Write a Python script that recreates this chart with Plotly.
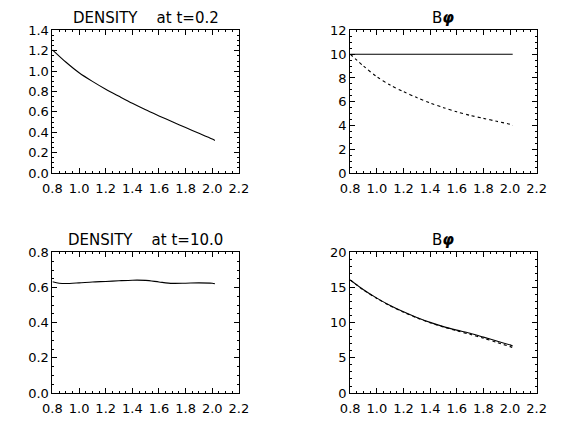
import plotly.graph_objects as go

# ---- data ----
r = [0.8, 0.9, 1.0, 1.1, 1.2, 1.3, 1.4, 1.5, 1.6, 1.7, 1.8, 1.9, 2.0, 2.02]

dens_t02 = [1.21, 1.09, 0.985, 0.9, 0.823, 0.753, 0.684, 0.62, 0.561, 0.503, 0.446, 0.39, 0.333, 0.32]
bphi_t02_solid = [10.0] * 14
bphi_t02_dash = [10.0, 9.0, 8.1, 7.4, 6.85, 6.35, 5.9, 5.5, 5.15, 4.85, 4.6, 4.35, 4.1, 4.0]

r3 = [0.8, 0.85, 0.9, 1.0, 1.1, 1.2, 1.3, 1.4, 1.5, 1.6, 1.7, 1.8, 1.9, 2.0, 2.02]
dens_t10 = [0.633, 0.625, 0.623, 0.627, 0.632, 0.635, 0.639, 0.642, 0.641, 0.632, 0.624, 0.625, 0.627, 0.625, 0.622]

bphi_t10_solid = [16.1, 14.7, 13.5, 12.45, 11.55, 10.75, 10.05, 9.45, 8.95, 8.5, 7.95, 7.4, 6.85, 6.7]
bphi_t10_dash = [16.1, 14.65, 13.45, 12.4, 11.5, 10.7, 10.0, 9.4, 8.85, 8.35, 7.8, 7.2, 6.6, 6.45]

titles = ["DENSITY&nbsp;&nbsp;&nbsp; at t=0.2", "B<b><i>φ</i></b>",
          "DENSITY&nbsp;&nbsp;&nbsp; at t=10.0", "B<b><i>φ</i></b>"]
y_ranges = [[0, 1.4], [0, 12], [0, 0.8], [0, 20]]
y_dticks = [0.2, 2, 0.2, 5]
y_fmt = [".1f", "d", ".1f", "d"]
y_minor = [4, 4, 4, 5]

W, H = 565, 430
boxes = [  # left, right, top, bottom in px
    (44, 237.3, 24.3, 172),
    (352.7, 546, 24.3, 172),
    (44, 237.3, 254.3, 400),
    (352.7, 546, 254.3, 400),
]

fig = go.Figure()
FONT = "DejaVu Sans, sans-serif"

series = [
    [(r, dens_t02, "solid")],
    [(r, bphi_t02_solid, "solid"), (r, bphi_t02_dash, "3px,3px")],
    [(r3, dens_t10, "solid")],
    [(r, bphi_t10_solid, "solid"), (r, bphi_t10_dash, "3px,3px")],
]

for i in range(4):
    xa = "x" if i == 0 else f"x{i+1}"
    ya = "y" if i == 0 else f"y{i+1}"
    for xs, ys, dash in series[i]:
        fig.add_trace(go.Scatter(x=xs, y=ys, mode="lines", xaxis=xa, yaxis=ya,
                                 line=dict(color="black", width=1.1, dash=dash,
                                           shape="spline", smoothing=0.8),
                                 showlegend=False, hoverinfo="skip"))
    l, rr, t, b = boxes[i]
    axk = "xaxis" if i == 0 else f"xaxis{i+1}"
    ayk = "yaxis" if i == 0 else f"yaxis{i+1}"
    fig.layout[axk] = dict(
        domain=[l / W, rr / W], range=[0.8, 2.2], anchor=ya,
        tickmode="linear", tick0=0.8, dtick=0.2, tickformat=".1f",
        ticks="inside", ticklen=5, tickwidth=1, tickcolor="black",
        showline=True, linecolor="black", linewidth=1, mirror="ticks",
        showgrid=False, zeroline=False,
        minor=dict(ticks="inside", ticklen=2, nticks=4, tickcolor="black", showgrid=False),
        tickfont=dict(family=FONT, size=13, color="black"),
        ticklabelstandoff=3,
    )
    fig.layout[ayk] = dict(
        domain=[1 - b / H, 1 - t / H], range=y_ranges[i], anchor=xa,
        tickmode="linear", tick0=0, dtick=y_dticks[i], tickformat=y_fmt[i],
        ticks="inside", ticklen=5, tickwidth=1, tickcolor="black",
        showline=True, linecolor="black", linewidth=1, mirror="ticks",
        showgrid=False, zeroline=False,
        minor=dict(ticks="inside", ticklen=2, nticks=y_minor[i], tickcolor="black", showgrid=False),
        tickfont=dict(family=FONT, size=13, color="black"),
        ticklabelstandoff=0,
    )
    fig.add_annotation(text=titles[i], xref="paper", yref="paper",
                       x=(l + rr) / 2 / W, y=1 - (t - 12.5) / H,
                       xanchor="center", yanchor="middle", showarrow=False,
                       font=dict(family=FONT, size=15, color="black"))

fig.update_layout(width=W, height=H, margin=dict(l=0, r=0, t=0, b=0),
                  paper_bgcolor="white", plot_bgcolor="white")
fig.write_html("out.html")
